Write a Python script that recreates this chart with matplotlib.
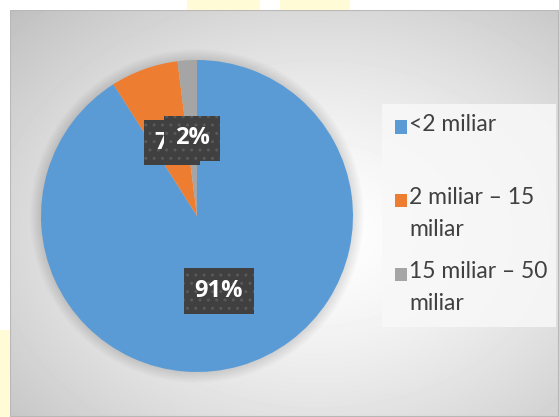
#!/usr/bin/env python3
"""
Pie chart: share of companies by size class (miliar)
"""

import matplotlib
matplotlib.use('Agg')
import matplotlib.pyplot as plt
from matplotlib.patches import Rectangle, Circle
import numpy as np

# data
categories = ['<2 miliar', '2 miliar \u2013 15\nmiliar', '15 miliar \u2013 50\nmiliar']
shares = [91, 7, 2]
colors = ['#5B9BD5', '#ED7D31', '#A5A5A5']

W, H = 559, 417


def px(x0, y0, x1, y1):
    """pixel box (top-left origin) -> figure rect"""
    return [x0 / W, 1 - y1 / H, (x1 - x0) / W, (y1 - y0) / H]


fig = plt.figure(figsize=(W / 100, H / 100), dpi=100)
fig.patch.set_facecolor('white')

# faint yellow watermark bits outside the panel
for r in [(187, 0, 260, 10), (280, 0, 350, 10), (0, 330, 10, 417)]:
    fig.patches.append(Rectangle((r[0] / W, 1 - r[3] / H), (r[2] - r[0]) / W, (r[3] - r[1]) / H,
                                 transform=fig.transFigure, facecolor='#fffbd6', edgecolor='none'))

# gradient panel
bg = fig.add_axes(px(10, 10, 559, 417))
ny, nx = 407, 549
yy, xx = np.mgrid[0:ny, 0:nx]
d = np.sqrt(((xx - 0.56 * nx) / nx) ** 2 + ((yy - 0.55 * ny) / ny) ** 2)
d = d / d.max()
v = 1 - 0.25 * d ** 1.4
bg.imshow(v, cmap='gray', vmin=0, vmax=1, aspect='auto', extent=[0, 1, 0, 1])
bg.set_axis_off()
bg.add_patch(Rectangle((0, 0), 1, 1, transform=bg.transAxes, fill=False,
                       edgecolor='#b8b8b8', linewidth=1.5))

# pie with a soft halo
ax = fig.add_axes(px(41, 60, 353, 372))
for k in range(10):
    ax.add_patch(Circle((0, 0), 1.0 + 0.007 * (k + 1), facecolor='black', alpha=0.012,
                        edgecolor='none', clip_on=False, zorder=0))
wedges, texts, autotexts = ax.pie(
    shares, colors=colors, startangle=90, counterclock=False,
    autopct='%1.0f%%', pctdistance=0.5,
    wedgeprops=dict(linewidth=0),
    textprops=dict(color='white', fontsize=17, fontweight='bold', family='Open Sans'))
for at in autotexts:
    at.set_bbox(dict(boxstyle='square,pad=0.45', facecolor='#404040',
                     edgecolor='#595959', hatch='..', linewidth=0))
# the small labels collide; the 2% box sits over the "%" of the 7% label
x7, y7 = autotexts[1].get_position()
autotexts[1].set_position((x7 + 0.007, y7))
ax.set_xlim(-1, 1)
ax.set_ylim(-1, 1)
ax.set_aspect('equal')
ax.set_axis_off()

# legend (drawn by hand to keep the marker on the first line)
fig.patches.append(Rectangle((382 / W, 1 - 327 / H), (556 - 382) / W, (327 - 104) / H,
                             transform=fig.transFigure, facecolor='#f8f8f8', alpha=0.85,
                             edgecolor='none'))
first_line_y = [127, 200, 274]
for lab, col, y in zip(categories, colors, first_line_y):
    fig.patches.append(Rectangle((395 / W, 1 - (y + 6.5) / H), 12 / W, 13 / H,
                                 transform=fig.transFigure, facecolor=col, edgecolor='none'))
    fig.text(409 / W, 1 - (y - 13) / H, lab, fontsize=16.5, family='Lato',
             color='#404040', va='top', ha='left', linespacing=1.67)

fig.savefig('out.png', dpi=100)
